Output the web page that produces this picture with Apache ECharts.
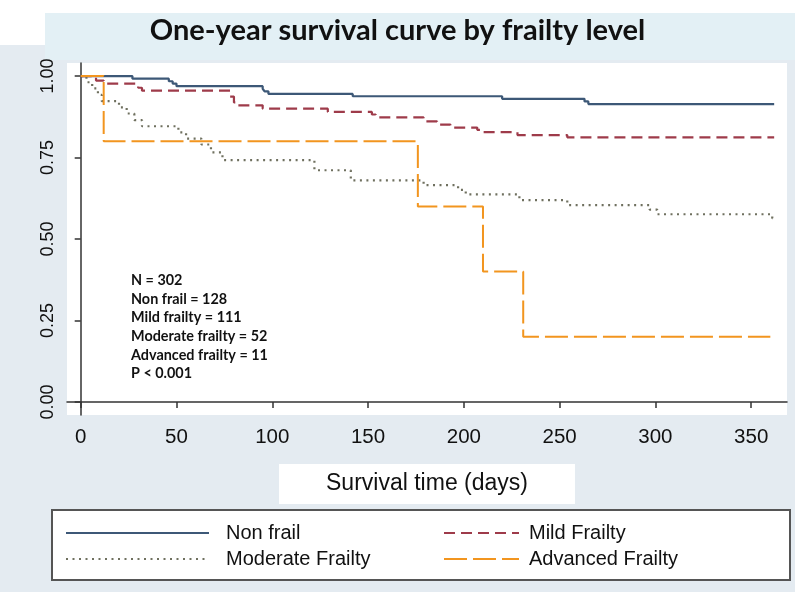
<!DOCTYPE html>
<html><head><meta charset="utf-8">
<script src="https://cdn.jsdelivr.net/npm/echarts@6/dist/echarts.min.js"></script>
<style>html,body{margin:0;padding:0;background:#fff}#c{width:795px;height:592px}</style>
</head><body><div id="c"></div>
<script>
// ---- data ----
const xTicks = [0, 50, 100, 150, 200, 250, 300, 350];
const yTicks = [0, 0.25, 0.5, 0.75, 1.0];

const nonFrailT = [0, 27, 46, 48, 50, 95, 96, 98, 142, 220, 263, 265, 362];
const nonFrailS = [1, 0.992, 0.984, 0.977, 0.969, 0.961, 0.953, 0.945, 0.938, 0.930, 0.922, 0.914, 0.914];

const mildT = [0, 8, 12, 30, 32, 78, 80, 82, 95, 129, 152, 154, 179, 186, 193, 207, 209, 228, 254, 362];
const mildS = [1, 0.986, 0.977, 0.964, 0.955, 0.937, 0.919, 0.910, 0.900, 0.890, 0.882, 0.873, 0.861, 0.851, 0.842, 0.835, 0.828, 0.819, 0.812, 0.812];

const moderateT = [0, 3, 6, 9, 11, 20, 24, 28, 32, 51, 55, 63, 68, 74, 122, 141, 179, 197, 201, 229, 254, 297, 301, 361, 362];
const moderateS = [1, 0.981, 0.962, 0.942, 0.923, 0.904, 0.885, 0.865, 0.846, 0.827, 0.808, 0.790, 0.766, 0.742, 0.711, 0.680, 0.665, 0.651, 0.637, 0.619, 0.604, 0.590, 0.576, 0.564, 0.564];

const advancedT = [0, 12, 176, 210, 231, 360];
const advancedS = [1, 0.8, 0.6, 0.4, 0.2, 0.2];

const seriesNames = ['Non frail', 'Mild Frailty', 'Moderate Frailty', 'Advanced Frailty'];
const annotationLines = ['N = 302', 'Non frail = 128', 'Mild frailty = 111', 'Moderate frailty = 52', 'Advanced frailty = 11', 'P < 0.001'];
const titleText = 'One-year survival curve by frailty level';
const xAxisTitle = 'Survival time (days)';

// ---- chart ----
const pairs = (t, s) => t.map((v, i) => [v, s[i]]);
const chart = echarts.init(document.getElementById('c'), null, {renderer: 'canvas'});
const hiddenSymbol = {color: 'rgba(0,0,0,0)', borderColor: 'rgba(0,0,0,0)', borderWidth: 0, opacity: 0};

const option = {
  animation: false,
  backgroundColor: '#e4ebf1',
  graphic: [
    {type: 'rect', z: -10, shape: {x: 0, y: 0, width: 795, height: 13}, style: {fill: '#ffffff'}},
    {type: 'rect', z: -10, shape: {x: 0, y: 0, width: 45, height: 45}, style: {fill: '#ffffff'}},
    {type: 'rect', z: -9, shape: {x: 45, y: 13, width: 750, height: 47}, style: {fill: '#e3f0f5'}},
    {type: 'rect', z: -5, shape: {x: 52, y: 510, width: 738, height: 70}, style: {fill: '#ffffff', stroke: '#555', lineWidth: 2}}
  ],
  title: [
    {text: titleText, left: 'center', top: 11,
     textStyle: {fontFamily: 'Lato', fontWeight: 'bold', fontSize: 29, color: '#111'}},
    {text: annotationLines.join('\n'), left: 126, top: 266,
     textStyle: {fontFamily: 'Lato', fontWeight: 'bold', fontSize: 14.4, lineHeight: 18.7, color: '#111'}}
  ],
  grid: {left: 67, right: 8, top: 63, bottom: 177, show: true, backgroundColor: '#ffffff', borderWidth: 0},
  xAxis: {
    type: 'value', min: -7.15, max: 368.7,
    axisLine: {lineStyle: {color: '#333', width: 1.5}},
    axisTick: {show: true, customValues: xTicks, length: 6, lineStyle: {color: '#333', width: 1.5}},
    axisLabel: {customValues: xTicks, fontFamily: 'Liberation Sans', fontSize: 20.5, color: '#111', margin: 12},
    splitLine: {show: false},
    name: xAxisTitle, nameLocation: 'middle', nameGap: 49,
    nameTextStyle: {fontFamily: 'Liberation Sans', fontSize: 23, color: '#111', backgroundColor: '#ffffff', padding: [8, 47, 9, 47]}
  },
  yAxis: {
    type: 'value', min: -0.04, max: 1.04,
    axisLine: {show: true, lineStyle: {color: '#333', width: 1.5}},
    axisTick: {show: true, customValues: yTicks, length: 6, lineStyle: {color: '#333', width: 1.5}},
    axisLabel: {customValues: yTicks, rotate: 90, formatter: v => v.toFixed(2), fontFamily: 'Liberation Sans', fontSize: 18, color: '#111', margin: 10},
    splitLine: {show: false}
  },
  legend: [
    {data: ['Non frail', 'Moderate Frailty'], orient: 'vertical', left: 65, top: 523, padding: 0,
     itemWidth: 143, itemHeight: 14, itemGap: 6, itemStyle: hiddenSymbol,
     textStyle: {fontFamily: 'Liberation Sans', fontSize: 20, color: '#111', padding: [0, 0, 0, 12]}},
    {data: ['Mild Frailty', 'Advanced Frailty'], orient: 'vertical', left: 443, top: 523, padding: 0,
     itemWidth: 75, itemHeight: 14, itemGap: 6, itemStyle: hiddenSymbol,
     textStyle: {fontFamily: 'Liberation Sans', fontSize: 20, color: '#111', padding: [0, 0, 0, 5]}}
  ],
  series: [
    {type: 'line', name: seriesNames[0], step: 'end', symbol: 'none', data: pairs(nonFrailT, nonFrailS),
     lineStyle: {color: '#3d5877', width: 2.2, type: 'solid'}, itemStyle: {color: '#3d5877'}},
    {type: 'line', name: seriesNames[1], step: 'end', symbol: 'none', data: pairs(mildT, mildS),
     lineStyle: {color: '#9e3b4a', width: 2.2, type: [11, 6]}, itemStyle: {color: '#9e3b4a'}},
    {type: 'line', name: seriesNames[2], step: 'end', symbol: 'none', data: pairs(moderateT, moderateS),
     lineStyle: {color: '#6f705f', width: 2.2, type: [2, 4.5]}, itemStyle: {color: '#6f705f'}},
    {type: 'line', name: seriesNames[3], step: 'end', symbol: 'none', data: pairs(advancedT, advancedS),
     lineStyle: {color: '#f2951f', width: 2, type: [23, 6]}, itemStyle: {color: '#f2951f'}}
  ]
};
chart.setOption(option);
</script>
</body></html>
